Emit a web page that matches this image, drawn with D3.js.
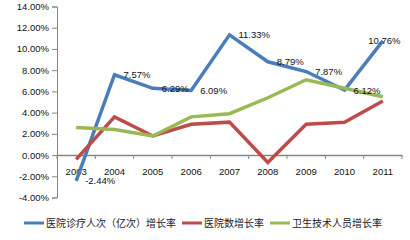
<!DOCTYPE html>
<html>
<head>
<meta charset="utf-8">
<script src="https://cdn.jsdelivr.net/npm/d3@7"></script>
<style>
  body { margin: 0; background: #fff; }
  svg { display: block; font-family: "Liberation Sans", Arial, sans-serif; }
</style>
</head>
<body>
<script>
var years = ["2003", "2004", "2005", "2006", "2007", "2008", "2009", "2010", "2011"];
var visits = [-2.44, 7.57, 6.29, 6.09, 11.33, 8.79, 7.87, 6.12, 10.76];
var hospitals = [-0.4, 3.6, 1.8, 2.9, 3.1, -0.7, 2.9, 3.1, 5.1];
var staff = [2.6, 2.4, 1.8, 3.6, 3.9, 5.4, 7.1, 6.3, 5.5];
var seriesNames = ["医院诊疗人次（亿次）增长率", "医院数增长率", "卫生技术人员增长率"];
var colors = ["#4a7ebb", "#be4b48", "#98b954"];
var yTicks = [-4, -2, 0, 2, 4, 6, 8, 10, 12, 14];

var svg = d3.select("body")
    .append("svg")
    .attr("width", 410)
    .attr("height", 240);

var x = d3.scaleBand()
  .domain(years)
  .range([57, 402])
  .padding(0);

var y = d3.scaleLinear()
  .domain([-4, 14])
  .range([197.5, 6.5]);

var cx = function(d, i) { return x(years[i]) + x.bandwidth() / 2; };

// y axis
var yAxis = d3.axisLeft(y)
  .tickValues(yTicks)
  .tickSize(5)
  .tickPadding(3)
  .tickFormat(function(d) { return d.toFixed(2) + "%"; });

var gy = svg.append("g")
  .attr("transform", "translate(57,0)")
  .call(yAxis);
gy.select(".domain").attr("stroke", "#868686");
gy.selectAll(".tick line").attr("stroke", "#868686");
gy.selectAll(".tick text").attr("font-size", "9.5px").attr("fill", "#111");

// x axis at zero
var xAxis = d3.axisBottom(x).tickSize(0).tickFormat("");
var gx = svg.append("g")
  .attr("transform", "translate(0," + y(0) + ")")
  .call(xAxis);
gx.select(".domain").attr("stroke", "#868686").attr("stroke-width", 1.5);

svg.append("g")
  .selectAll("line")
  .data(years.concat(["end"]))
  .enter()
  .append("line")
    .attr("x1", function(d, i) { return x.range()[0] + i * x.bandwidth(); })
    .attr("x2", function(d, i) { return x.range()[0] + i * x.bandwidth(); })
    .attr("y1", y(0))
    .attr("y2", y(0) + 4)
    .attr("stroke", "#868686");

svg.append("g")
  .selectAll("text")
  .data(years)
  .enter()
  .append("text")
    .attr("x", function(d) { return x(d) + x.bandwidth() / 2; })
    .attr("y", y(0) + 20)
    .attr("text-anchor", "middle")
    .attr("font-size", "9.5px")
    .attr("fill", "#111")
    .text(function(d) { return d; });

// lines
var line = d3.line()
  .x(cx)
  .y(function(d) { return y(d); });

var allSeries = [visits, hospitals, staff];
svg.append("g")
  .selectAll("path")
  .data(allSeries)
  .enter()
  .append("path")
    .attr("d", line)
    .attr("fill", "none")
    .attr("stroke", function(d, i) { return colors[i]; })
    .attr("stroke-width", 3.5)
    .attr("stroke-linejoin", "miter");

// data labels for first series
svg.append("g")
  .selectAll("text")
  .data(visits)
  .enter()
  .append("text")
    .attr("x", function(d, i) { return cx(d, i) + 9; })
    .attr("y", function(d) { return y(d) + 3.5; })
    .attr("font-size", "9.5px")
    .attr("fill", "#111")
    .text(function(d) { return d.toFixed(2) + "%"; })
    .each(function() {
      var b = this.getBBox();
      if (b.x + b.width > 401) d3.select(this).attr("x", 401 - b.width);
    });

// legend
var legend = svg.append("g");
var lx = 24;
seriesNames.forEach(function(name, i) {
  legend.append("line")
    .attr("x1", lx).attr("x2", lx + 20)
    .attr("y1", 223).attr("y2", 223)
    .attr("stroke", colors[i])
    .attr("stroke-width", 3);
  var t = legend.append("text")
    .attr("x", lx + 22)
    .attr("y", 226.5)
    .attr("font-size", "10px")
    .attr("font-family", "'Noto Sans CJK SC', sans-serif")
    .attr("fill", "#222")
    .text(name);
  lx += 22 + t.node().getComputedTextLength() + 6;
});
</script>
</body>
</html>
